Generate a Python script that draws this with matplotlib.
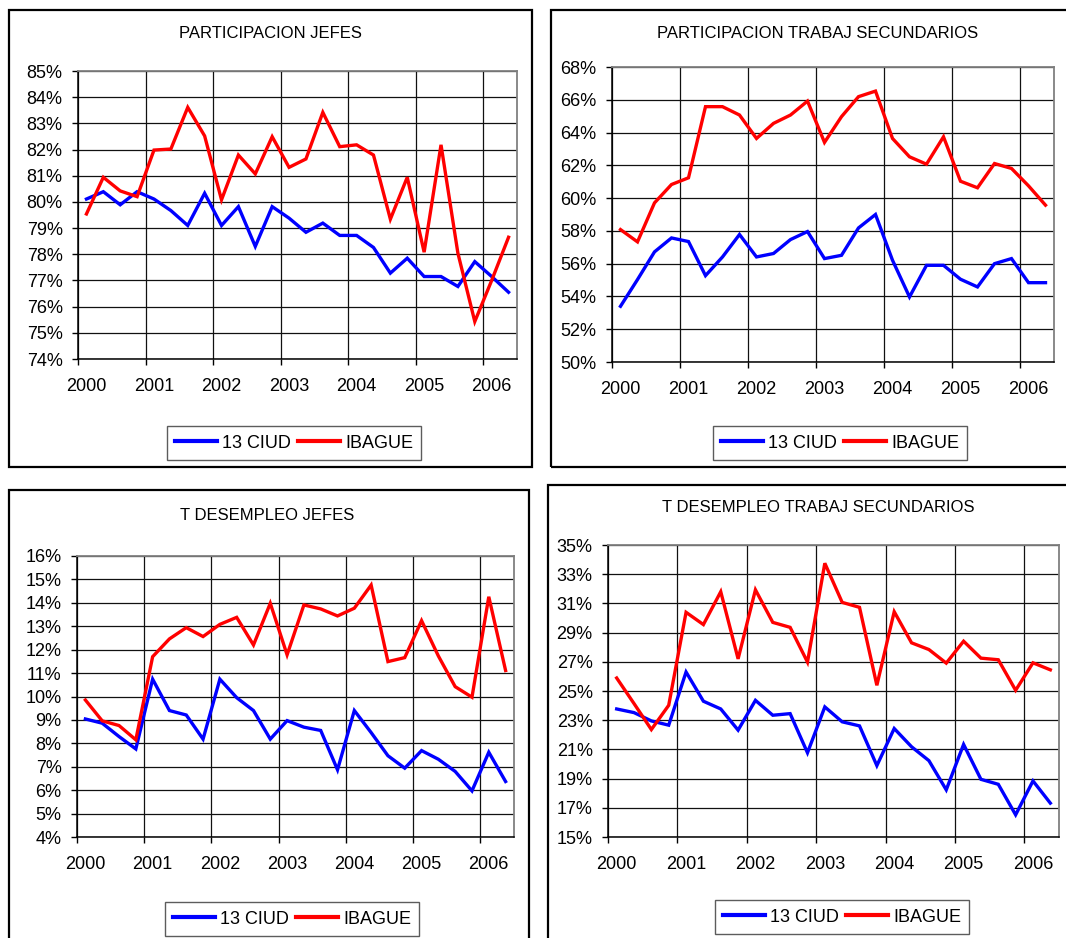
import matplotlib
matplotlib.use('Agg')
import matplotlib.pyplot as plt
from matplotlib.patches import Rectangle
from matplotlib.lines import Line2D
from matplotlib.ticker import FuncFormatter

plt.rcParams['font.family'] = ['Liberation Sans', 'DejaVu Sans']

# ---------------- data (quarterly, 2000 Q1 .. 2006 Q2) ----------------
years = ['2000', '2001', '2002', '2003', '2004', '2005', '2006']
series_names = ['13 CIUD', 'IBAGUE']

part_jefes_13 = [80.11, 80.39, 79.89, 80.39, 80.11, 79.67, 79.10, 80.33, 79.10, 79.82,
                 78.30, 79.82, 79.38, 78.84, 79.19, 78.72, 78.72, 78.26, 77.28, 77.85,
                 77.15, 77.15, 76.77, 77.72, 77.15, 76.55]
part_jefes_ib = [79.54, 80.94, 80.42, 80.20, 81.98, 82.02, 83.61, 82.52, 80.08, 81.79,
                 81.07, 82.49, 81.32, 81.64, 83.42, 82.11, 82.18, 81.79, 79.34, 80.94,
                 78.08, 82.18, 78.04, 75.43, 77.00, 78.65]

part_sec_13 = [53.40, 55.03, 56.72, 57.57, 57.35, 55.27, 56.41, 57.78, 56.41, 56.62,
               57.47, 57.96, 56.31, 56.51, 58.18, 59.00, 56.21, 53.97, 55.90, 55.90,
               55.05, 54.58, 56.00, 56.31, 54.84, 54.84]
part_sec_ib = [58.08, 57.33, 59.71, 60.83, 61.24, 65.58, 65.58, 65.07, 63.64, 64.56,
               65.07, 65.92, 63.40, 64.97, 66.19, 66.53, 63.64, 62.52, 62.07, 63.74,
               61.03, 60.63, 62.11, 61.81, 60.75, 59.57]

des_jefes_13 = [9.04, 8.86, 8.29, 7.76, 10.74, 9.40, 9.21, 8.18, 10.74, 9.95,
                9.40, 8.18, 8.97, 8.69, 8.55, 6.87, 9.40, 8.46, 7.47, 6.94,
                7.69, 7.32, 6.80, 5.97, 7.62, 6.37]
des_jefes_ib = [9.85, 8.96, 8.76, 8.15, 11.70, 12.46, 12.94, 12.56, 13.08, 13.38,
                12.20, 13.98, 11.78, 13.91, 13.74, 13.44, 13.77, 14.76, 11.49, 11.66,
                13.24, 11.73, 10.42, 9.97, 14.26, 11.11]

des_sec_13 = [23.77, 23.52, 22.95, 22.66, 26.30, 24.30, 23.77, 22.32, 24.36, 23.34,
              23.45, 20.77, 23.91, 22.89, 22.61, 19.89, 22.43, 21.18, 20.23, 18.23,
              21.34, 18.95, 18.61, 16.52, 18.84, 17.32]
des_sec_ib = [25.89, 24.14, 22.36, 24.02, 30.39, 29.55, 31.80, 27.20, 31.93, 29.70,
              29.36, 26.98, 33.75, 31.07, 30.73, 25.39, 30.43, 28.30, 27.84, 26.91,
              28.41, 27.25, 27.14, 25.05, 26.93, 26.45]

titles = ['PARTICIPACION JEFES', 'PARTICIPACION TRABAJ SECUNDARIOS',
          'T DESEMPLEO JEFES', 'T DESEMPLEO TRABAJ SECUNDARIOS']

# ---------------- layout ----------------
W, H = 1066, 938
fig = plt.figure(figsize=(W / 100, H / 100), dpi=100)

panels = [
    dict(title=titles[0], d13=part_jefes_13, dib=part_jefes_ib, ylim=(74, 85), step=1,
         box=(8.5, 9.5, 532, 467), ax=(78, 71, 517, 359), tpos=(270, 33), lpos=(294, 443)),
    dict(title=titles[1], d13=part_sec_13, dib=part_sec_ib, ylim=(50, 68), step=2,
         box=(551, 9.5, 1075, 467), ax=(612, 67, 1054, 362), tpos=(818, 33), lpos=(840, 443)),
    dict(title=titles[2], d13=des_jefes_13, dib=des_jefes_ib, ylim=(4, 16), step=1,
         box=(8.5, 490, 529, 950), ax=(77, 556, 514, 837), tpos=(267, 515), lpos=(292, 919)),
    dict(title=titles[3], d13=des_sec_13, dib=des_sec_ib, ylim=(15, 35), step=2,
         box=(548, 485, 1075, 950), ax=(608, 545, 1059, 837), tpos=(818, 508), lpos=(842, 917)),
]

n = len(part_jefes_13)
x = list(range(n))

for p in panels:
    l, t, r, b = p['box']
    fig.patches.append(Rectangle((l / W, 1 - b / H), (r - l) / W, (b - t) / H,
                                 transform=fig.transFigure, fill=False,
                                 ec='black', lw=1.6, zorder=0))
    fig.text(p['tpos'][0] / W, 1 - p['tpos'][1] / H, p['title'],
             ha='center', va='center', fontsize=12)

    l, t, r, b = p['ax']
    ax = fig.add_axes([l / W, 1 - b / H, (r - l) / W, (b - t) / H])
    l1, = ax.plot(x, p['d13'], color='#0000FF', lw=2.4, solid_joinstyle='miter')
    l2, = ax.plot(x, p['dib'], color='#FF0000', lw=2.4, solid_joinstyle='miter')

    ax.set_xlim(-0.5, n - 0.5)
    ax.set_ylim(*p['ylim'])
    yt = list(range(p['ylim'][0], p['ylim'][1] + 1, p['step']))
    ax.set_yticks(yt)
    ax.yaxis.set_major_formatter(FuncFormatter(lambda v, pos: f'{int(round(v))}%'))
    ax.set_xticks(list(range(0, n, 4)))
    ax.set_xticklabels(years)
    ax.set_xticks([i - 0.5 for i in range(0, n, 4)], minor=True)

    ax.tick_params(axis='x', which='major', length=0, pad=14, labelsize=13)
    ax.tick_params(axis='x', which='minor', length=4, width=1, direction='out', color='black')
    ax.tick_params(axis='y', which='major', length=4, width=1, direction='out', pad=7,
                   labelsize=13, color='black')

    ax.grid(True, axis='y', which='major', color='#111111', lw=0.9)
    ax.grid(True, axis='x', which='minor', color='#111111', lw=0.9)
    ax.set_axisbelow(True)

    for s in ['left', 'bottom']:
        ax.spines[s].set_color('black')
        ax.spines[s].set_linewidth(1.1)
    for s in ['top', 'right']:
        ax.spines[s].set_color('#808080')
        ax.spines[s].set_linewidth(1.3)

    leg = ax.legend([l1, l2], series_names, loc='center',
                    bbox_to_anchor=(p['lpos'][0] / W, 1 - p['lpos'][1] / H),
                    bbox_transform=fig.transFigure, ncol=2, frameon=True,
                    fancybox=False, fontsize=13, handlelength=2.3,
                    handletextpad=0.3, columnspacing=0.4, borderpad=0.45,
                    borderaxespad=0)
    leg.get_frame().set_edgecolor('#333333')
    leg.get_frame().set_linewidth(1.0)
    for h in leg.get_lines():
        h.set_linewidth(3.0)

fig.savefig('out.png', dpi=100)
